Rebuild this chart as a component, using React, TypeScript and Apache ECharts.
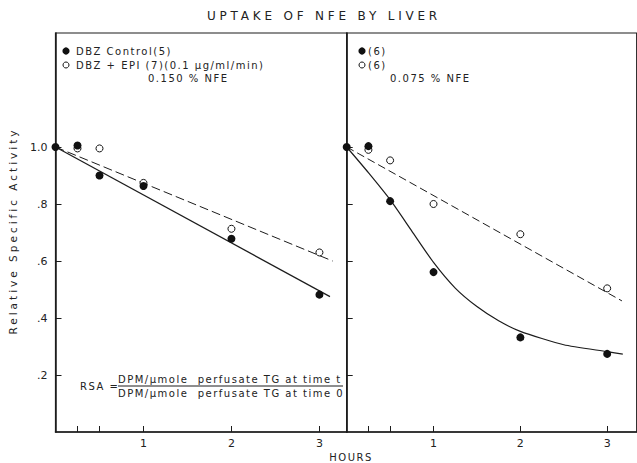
import React, { useEffect, useRef } from "react";
import * as echarts from "echarts";

// ---- data ----
const hourTicks = [0.25, 0.5, 1, 2, 3];
const hourLabels = [1, 2, 3];
const rsaTicks = [0.2, 0.4, 0.6, 0.8, 1.0];

// left panel: 0.150 % NFE
const leftControl = [[0, 1.0], [0.25, 1.005], [0.5, 0.9], [1, 0.863], [2, 0.678], [3, 0.482]];
const leftEpi = [[0.25, 0.995], [0.5, 0.995], [1, 0.874], [2, 0.713], [3, 0.63]];
const leftControlFit = [[0, 1.0], [3.12, 0.475]];
const leftEpiFit = [[0, 1.0], [3.15, 0.6]];

// right panel: 0.075 % NFE
const rightControl = [[0, 1.0], [0.25, 1.003], [0.5, 0.81], [1, 0.561], [2, 0.332], [3, 0.274]];
const rightEpi = [[0.25, 0.99], [0.5, 0.953], [1, 0.8], [2, 0.694], [3, 0.504]];
const rightControlFit = [
  [0, 1.0], [0.25, 0.91], [0.5, 0.815], [0.75, 0.705], [1, 0.595], [1.25, 0.505], [1.5, 0.44],
  [1.75, 0.39], [2, 0.353], [2.5, 0.306], [3, 0.282], [3.18, 0.273],
];
const rightEpiFit = [[0, 1.0], [3.17, 0.46]];

const INK = "#1c1c1c";
const FONT = "DejaVu Sans";

const css = `
body{margin:0}
svg text[style*="12px"]{letter-spacing:3.8px}
svg text[style*="10px"]{letter-spacing:1.5px}
svg text[style*="10.5px"]{letter-spacing:3px}
`;

function xAxis(gi: number, max: number) {
  return {
    type: "value",
    gridIndex: gi,
    min: 0,
    max,
    axisLine: { show: true, onZero: false, lineStyle: { color: INK, width: 1.5 } },
    axisTick: { show: true, inside: true, length: 6, customValues: hourTicks, lineStyle: { color: INK, width: 1 } },
    axisLabel: {
      show: true,
      customValues: hourLabels,
      margin: 6,
      color: "#222",
      fontSize: 11,
      fontFamily: FONT,
      formatter: (v: number) => String(v),
    },
    splitLine: { show: false },
  };
}

function yAxis(gi: number, labels: boolean) {
  return {
    type: "value",
    gridIndex: gi,
    min: 0,
    max: 1.4,
    interval: 0.2,
    axisLine: { show: true, onZero: false, lineStyle: { color: INK, width: 1.5 } },
    axisTick: { show: true, inside: true, length: 6, customValues: rsaTicks, lineStyle: { color: INK, width: 1 } },
    axisLabel: {
      show: labels,
      customValues: rsaTicks,
      margin: 8,
      color: "#222",
      fontSize: 11,
      fontFamily: FONT,
      formatter: (v: number) => (v >= 0.999 ? "1.0" : "." + Math.round(v * 10)),
    },
    splitLine: { show: false },
  };
}

function fit(data: number[][], xi: number, dashed: number[] | null, smooth = false) {
  return {
    type: "line",
    xAxisIndex: xi,
    yAxisIndex: xi,
    data,
    symbol: "none",
    smooth: smooth ? 0.2 : false,
    lineStyle: { color: INK, width: dashed ? 1 : 1.2, type: dashed || "solid" },
    z: 2,
  };
}

function filled(data: number[][], xi: number) {
  return {
    type: "scatter",
    xAxisIndex: xi,
    yAxisIndex: xi,
    data,
    symbol: "circle",
    symbolSize: 8,
    itemStyle: { color: "#111", opacity: 1 },
    z: 4,
  };
}

function open(data: number[][], xi: number) {
  return {
    type: "scatter",
    xAxisIndex: xi,
    yAxisIndex: xi,
    data,
    symbol: "circle",
    symbolSize: 7,
    itemStyle: { color: "#fff", borderColor: "#111", borderWidth: 1, opacity: 1 },
    z: 3,
  };
}

function txt(text: string, x: number, y: number, size: number, align = "left", extra: any = {}) {
  return {
    type: "text",
    x,
    y,
    ...extra,
    style: {
      text,
      fill: "#222",
      fontSize: size,
      fontFamily: FONT,
      textAlign: align,
      textVerticalAlign: "middle",
    },
  };
}

const option = {
  animation: false,
  backgroundColor: "#fff",
  grid: [
    { left: 55.5, top: 33, width: 291.2, height: 399, show: true, borderColor: INK, borderWidth: 1.2, containLabel: false },
    { left: 346.7, top: 33, width: 290, height: 399, show: true, borderColor: INK, borderWidth: 1.2, containLabel: false },
  ],
  xAxis: [xAxis(0, 3.31), xAxis(1, 3.34)],
  yAxis: [yAxis(0, true), yAxis(1, false)],
  series: [
    fit(leftControlFit, 0, null),
    fit(leftEpiFit, 0, [9, 4]),
    open(leftEpi, 0),
    filled(leftControl, 0),
    fit(rightControlFit, 1, null, true),
    fit(rightEpiFit, 1, [8, 4]),
    open(rightEpi, 1),
    filled(rightControl, 1),
  ],
  graphic: [
    txt("UPTAKE OF NFE BY LIVER", 324, 16, 12, "center"),
    txt("Relative Specific Activity", 13, 231, 10.5, "center", { rotation: Math.PI / 2 }),
    txt("HOURS", 351, 457, 10, "center"),
    // left legend
    { type: "circle", shape: { cx: 66, cy: 51, r: 3.6 }, style: { fill: "#111" } },
    txt("DBZ Control(5)", 76, 51, 10),
    { type: "circle", shape: { cx: 66, cy: 65, r: 3 }, style: { fill: "#fff", stroke: "#111", lineWidth: 1 } },
    txt("DBZ + EPI (7)(0.1 µg/ml/min)", 76, 65, 10),
    txt("0.150 % NFE", 148, 78, 10),
    // right legend
    { type: "circle", shape: { cx: 362, cy: 51, r: 3.6 }, style: { fill: "#111" } },
    txt("(6)", 368, 51, 10),
    { type: "circle", shape: { cx: 362, cy: 65, r: 3 }, style: { fill: "#fff", stroke: "#111", lineWidth: 1 } },
    txt("(6)", 368, 65, 10),
    txt("0.075 % NFE", 390, 78, 10),
    // RSA formula
    txt("RSA =", 80, 386, 10),
    txt("DPM/µmole  perfusate TG at time t", 118, 379, 10),
    { type: "line", shape: { x1: 118, y1: 386, x2: 343, y2: 386 }, style: { stroke: INK, lineWidth: 1 } },
    txt("DPM/µmole  perfusate TG at time 0", 118, 393, 10),
  ],
};

export default function App() {
  const ref = useRef<HTMLDivElement>(null);
  useEffect(() => {
    const chart = echarts.init(ref.current!, null, { renderer: "svg" });
    chart.setOption(option as any);
    return () => chart.dispose();
  }, []);
  return (
    <>
      <style>{css}</style>
      <div ref={ref} style={{ width: 637, height: 463 }} />
    </>
  );
}
